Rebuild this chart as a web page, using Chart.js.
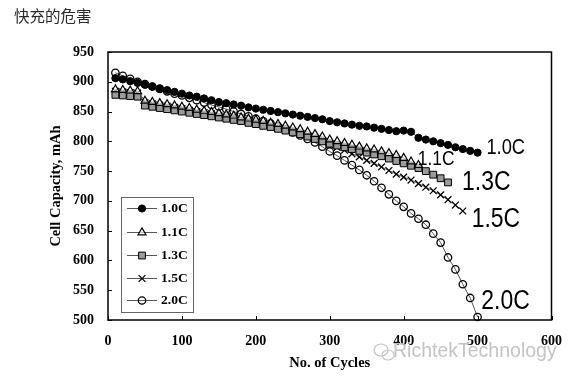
<!DOCTYPE html>
<html><head><meta charset="utf-8">
<script src="https://cdn.jsdelivr.net/npm/chart.js@4/dist/chart.umd.min.js"></script>
<style>html,body{margin:0;padding:0;background:#fff;}#wrap{position:relative;width:575px;height:378px;}</style>
</head><body><div id="wrap"><canvas id="c" width="575" height="378"></canvas></div>
<script>
// ---- data ----
const seriesNames = ["1.0C", "1.1C", "1.3C", "1.5C", "2.0C"];
const cycles = [10,20,30,40,50,60,70,80,90,100,110,120,130,140,150,160,170,180,190,200,
  210,220,230,240,250,260,270,280,290,300,310,320,330,340,350,360,370,380,390,400,
  410,420,430,440,450,460,470,480,490,500];
const cap10 = [906,904,901,898,895,892,889,886,883,880,877,875,872,869,866,864,862,860,857,855,
  853,851,849,847,845,843,841,839,837,834,832,830,828,826,825,823,821,819,817,818,
  816,806,803,800,797,794,790,787,784,781];
const cap11 = [887,886,885,884,868,866,864,862,860,858,856,853,851,849,847,845,843,840,838,836,
  834,831,829,826,823,820,816,812,808,803,800,797,794,791,788,786,783,780,777,772,
  766,760];
const cap13 = [878,877,876,875,860,858,856,854,852,850,848,846,844,842,840,838,836,834,831,829,
  826,824,821,818,815,812,808,804,800,796,793,790,787,784,781,778,775,771,767,763,
  759,755,750,744,738,731];
const cap15 = [884,883,882,881,865,863,861,859,857,855,852,850,848,846,843,841,839,836,834,832,
  829,826,823,820,817,813,809,805,800,795,790,785,779,774,768,763,757,751,745,740,
  735,729,723,717,710,702,693,683];
const cap20 = [915,910,905,900,896,892,888,884,880,877,873,869,865,861,858,854,850,846,842,838,
  834,830,825,820,815,810,804,798,791,783,776,768,760,752,743,733,722,711,700,690,
  679,670,660,645,630,605,585,560,537,505];
const xTicks = [0,100,200,300,400,500,600];
const yTicks = [500,550,600,650,700,750,800,850,900,950];
// end-of-curve labels: [text, cycles, capacity]
const endLabels = [["1.0C",512,788],["1.1C",419,769],["1.3C",479,730],["1.5C",492,668],["2.0C",505,531]];

// ---- styles ----
const styles = [
  {pointStyle:'circle', pointRadius:3.6, pointBackgroundColor:'#000', pointBorderColor:'#000', pointBorderWidth:1},
  {pointStyle:'triangle', pointRadius:4.6, pointBackgroundColor:'rgba(255,255,255,0.6)', pointBorderColor:'#000', pointBorderWidth:1.2},
  {pointStyle:'rect', pointRadius:4.8, pointBackgroundColor:'#9a9a9a', pointBorderColor:'#000', pointBorderWidth:1},
  {pointStyle:'crossRot', pointRadius:4.8, pointBackgroundColor:'#000', pointBorderColor:'#000', pointBorderWidth:1.3},
  {pointStyle:'circle', pointRadius:3.7, pointBackgroundColor:'rgba(0,0,0,0)', pointBorderColor:'#000', pointBorderWidth:1.3}
];
const labelSizes = [21.5, 20.5, 27, 27, 27];

const allCaps = [cap10, cap11, cap13, cap15, cap20];
const datasets = allCaps.map((arr, i) => Object.assign({
  label: seriesNames[i],
  data: arr.map((v, k) => ({x: cycles[k], y: v})),
  borderColor: '#555', borderWidth: 1, tension: 0, fill: false, clip: false,
  pointHoverRadius: 0
}, styles[i]));

const serif = '"Liberation Serif", "Times New Roman", serif';

function drawMarker(ctx, st, x, y) {
  ctx.save();
  ctx.fillStyle = st.pointBackgroundColor;
  ctx.strokeStyle = st.pointBorderColor;
  ctx.lineWidth = st.pointBorderWidth;
  Chart.helpers.drawPoint(ctx, {pointStyle: st.pointStyle, radius: st.pointRadius, borderWidth: st.pointBorderWidth, rotation: 0}, x, y);
  ctx.restore();
}

const deco = {
  id: 'deco',
  beforeDraw(chart) {
    const ctx = chart.ctx;
    ctx.save(); ctx.fillStyle = '#fff'; ctx.fillRect(0, 0, chart.width, chart.height); ctx.restore();
  },
  afterDraw(chart) {
    const ctx = chart.ctx, a = chart.chartArea, xs = chart.scales.x, ys = chart.scales.y;
    ctx.save();
    // frame
    ctx.strokeStyle = '#000'; ctx.lineWidth = 1.5;
    ctx.strokeRect(a.left, a.top, a.right - a.left, a.bottom - a.top);
    // inward ticks
    ctx.lineWidth = 1;
    yTicks.forEach(v => { const p = Math.round(ys.getPixelForValue(v)) + 0.5; ctx.beginPath(); ctx.moveTo(a.left, p); ctx.lineTo(a.left + 4, p); ctx.stroke(); });
    xTicks.forEach(v => { const p = Math.round(xs.getPixelForValue(v)) + 0.5; ctx.beginPath(); ctx.moveTo(p, a.bottom); ctx.lineTo(p, a.bottom - 4); ctx.stroke(); });
    // legend box
    ctx.strokeStyle = '#666'; ctx.lineWidth = 1;
    ctx.fillStyle = '#fff';
    ctx.fillRect(121.5, 197.5, 72, 115);
    ctx.strokeRect(121.5, 197.5, 72, 115);
    const ly = [208, 232, 255, 278, 300];
    ly.forEach((yy, i) => {
      ctx.strokeStyle = '#555'; ctx.lineWidth = 1;
      ctx.beginPath(); ctx.moveTo(127, yy + 0.5); ctx.lineTo(157, yy + 0.5); ctx.stroke();
      drawMarker(ctx, styles[i], 142, yy + 0.5);
      ctx.fillStyle = '#000'; ctx.font = 'bold 13.5px ' + serif;
      ctx.textAlign = 'left'; ctx.textBaseline = 'middle';
      ctx.fillText(seriesNames[i], 161, yy + 1);
    });
    // end labels (condensed sans)
    endLabels.forEach((l, i) => {
      const px = xs.getPixelForValue(l[1]), py = ys.getPixelForValue(l[2]);
      ctx.save();
      ctx.translate(px, py); ctx.scale(0.85, 1);
      ctx.font = labelSizes[i] + 'px "Liberation Sans", Arial, sans-serif'; ctx.fillStyle = '#000';
      ctx.textAlign = 'left'; ctx.textBaseline = 'middle';
      ctx.fillText(l[0], 0, 0);
      ctx.restore();
    });
    // page title
    ctx.font = '15.5px "Noto Sans CJK SC", sans-serif'; ctx.fillStyle = '#2a2a2a';
    ctx.textAlign = 'left'; ctx.textBaseline = 'middle';
    ctx.fillText('快充的危害', 14, 16);
    // watermark
    ctx.strokeStyle = '#c4c4c4'; ctx.lineWidth = 1.2;
    ctx.beginPath(); ctx.ellipse(381, 350, 7, 6, 0, 0, Math.PI * 2); ctx.stroke();
    ctx.beginPath(); ctx.ellipse(388, 355, 6, 5, 0, 0, Math.PI * 2); ctx.stroke();
    ctx.font = '19.5px "Liberation Sans", Arial, sans-serif'; ctx.fillStyle = '#c4c4c4';
    ctx.fillText('RichtekTechnology', 393, 352);
    ctx.restore();
  }
};

const tickFont = {family: serif, size: 14, weight: 'bold'};
new Chart(document.getElementById('c'), {
  type: 'line',
  data: {datasets},
  options: {
    responsive: false, animation: false, devicePixelRatio: 1,
    layout: {padding: {top: 52, right: 18, left: 0, bottom: 0}},
    plugins: {legend: {display: false}, tooltip: {enabled: false}, title: {display: false}},
    scales: {
      x: {
        type: 'linear', min: 0, max: 600,
        afterBuildTicks: s => { s.ticks = xTicks.map(v => ({value: v})); },
        afterFit: s => { s.height = 58; },
        grid: {display: false, drawTicks: false},
        border: {display: false},
        ticks: {padding: 13, color: '#000', font: tickFont},
        title: {display: true, text: 'No. of Cycles', color: '#000', font: {family: serif, size: 14.5, weight: 'bold'}, padding: {top: 0, bottom: 6}}
      },
      y: {
        type: 'linear', min: 500, max: 950,
        afterBuildTicks: s => { s.ticks = yTicks.map(v => ({value: v})); },
        afterFit: s => { s.width = 108; },
        grid: {display: false, drawTicks: false},
        border: {display: false},
        ticks: {padding: 14, color: '#000', font: tickFont},
        title: {display: true, text: 'Cell Capacity, mAh', color: '#000', font: {family: serif, size: 14.5, weight: 'bold'}, padding: {top: 48, bottom: 0}}
      }
    }
  },
  plugins: [deco]
});
</script></body></html>
